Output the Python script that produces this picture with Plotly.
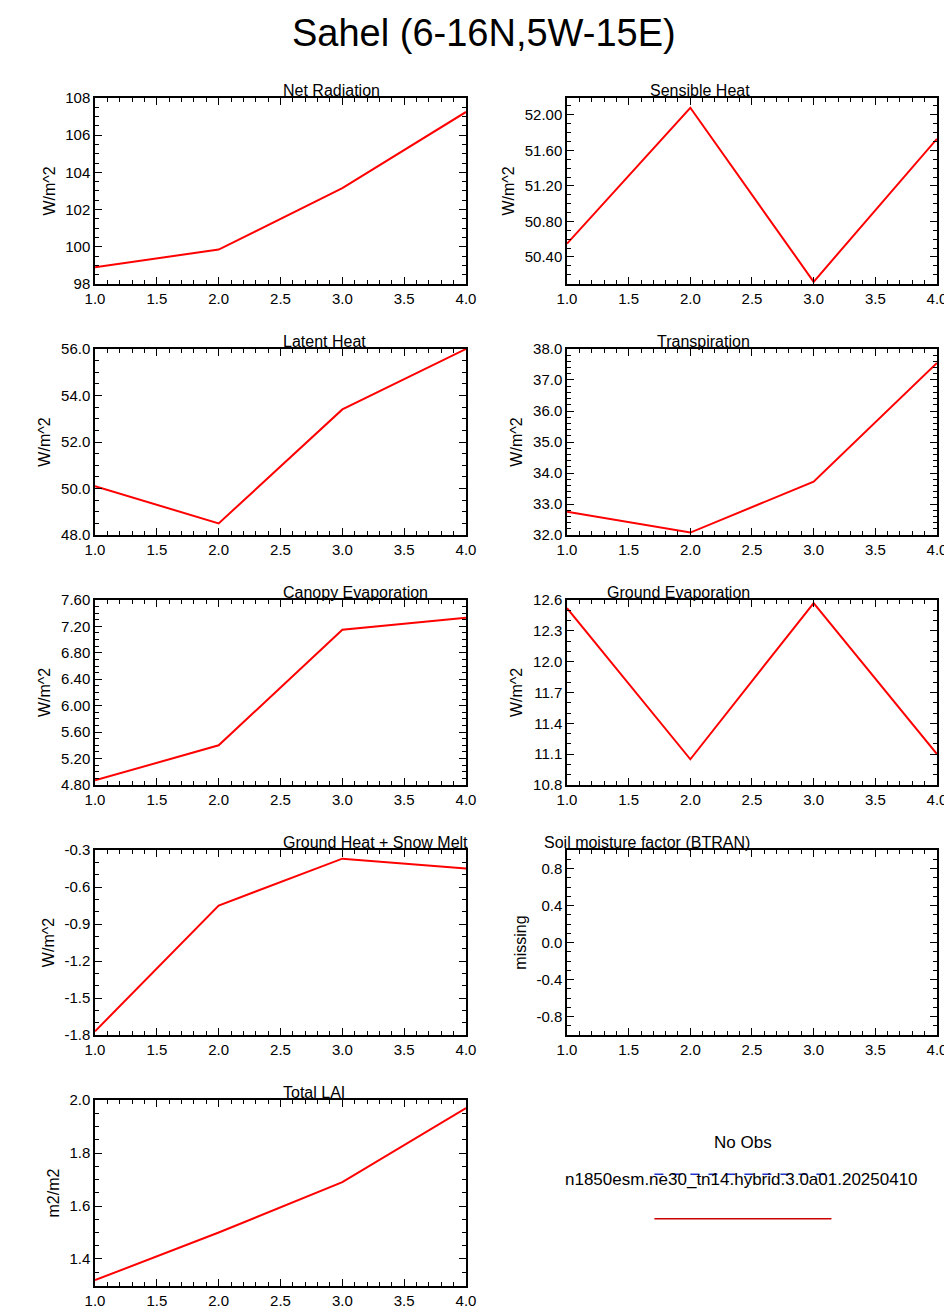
import plotly.graph_objects as go

x = [1.0, 2.0, 3.0, 4.0]
net_rad = [98.9, 99.85, 103.15, 107.25]
sensible = [50.55, 52.08, 50.12, 51.73]
latent = [50.1, 48.5, 53.4, 56.0]
transp = [32.75, 32.08, 33.72, 37.55]
canopy = [4.87, 5.4, 7.15, 7.33]
ground_evap = [12.52, 11.05, 12.57, 11.1]
ground_heat = [-1.77, -0.75, -0.37, -0.45]
lai = [1.32, 1.5, 1.69, 1.97]

heat_ticks = [-1.8, -1.5, -1.2, -0.9, -0.6, -0.3]
btran_ticks = [-0.8, -0.4, 0.0, 0.4, 0.8]

panels = [
    ("Net Radiation", net_rad, "W/m^2", [98, 108], 2, "d"),
    ("Sensible Heat", sensible, "W/m^2", [50.096, 52.19], 0.4, ".2f"),
    ("Latent Heat", latent, "W/m^2", [48, 56], 2, ".1f"),
    ("Transpiration", transp, "W/m^2", [32, 38], 1, ".1f"),
    ("Canopy Evaporation", canopy, "W/m^2", [4.8, 7.6], 0.4, ".2f"),
    ("Ground Evaporation", ground_evap, "W/m^2", [10.8, 12.6], 0.3, ".1f"),
    ("Ground Heat + Snow Melt", ground_heat, "W/m^2", [-1.8, -0.3], 0.3, ".1f"),
    ("Soil moisture factor (BTRAN)", None, "missing", [-1, 1], 0.4, ".1f"),
    ("Total LAI", lai, "m2/m2", [1.298, 2.0], 0.2, ".1f"),
]

xdoms = [[0.0914, 0.4811], [0.5872, 0.9758]]
ydoms = [[0.7900, 0.9315], [0.5989, 0.7405], [0.4087, 0.5495],
         [0.2184, 0.3592], [0.0274, 0.1689]]

fig = go.Figure()
font = dict(family="Liberation Sans, Arial", color="black")
for i, (title, y, ylab, yr, dt, fmt) in enumerate(panels):
    n = i + 1
    xd = xdoms[i % 2]
    yd = ydoms[i // 2]
    xa = "x" if n == 1 else f"x{n}"
    ya = "y" if n == 1 else f"y{n}"
    if y is not None:
        fig.add_trace(go.Scatter(x=x, y=y, mode="lines", xaxis=xa, yaxis=ya,
                                 line=dict(color="red", width=2), showlegend=False))
    else:
        fig.add_trace(go.Scatter(x=[None], y=[None], xaxis=xa, yaxis=ya, showlegend=False))
    common = dict(showline=True, linecolor="black", linewidth=1.5, mirror="allticks",
                  ticks="inside", ticklen=7, tickwidth=1, tickcolor="black",
                  showgrid=False, zeroline=False, tickfont=dict(size=15, **font),
                  automargin=False,
                  minor=dict(ticks="inside", ticklen=4, tickcolor="black"))
    tick0 = yr[0]
    if title == "Sensible Heat":
        tick0 = 50.4
    if title == "Total LAI":
        tick0 = 1.4
    yextra = dict(tick0=tick0, dtick=dt, tickformat=fmt)
    if title == "Ground Heat + Snow Melt":
        yextra = dict(tickvals=heat_ticks, ticktext=[f"{v:.1f}" for v in heat_ticks],
                      minor=dict(ticks="inside", ticklen=4, tickcolor="black", dtick=0.1))
    if y is None:
        yextra = dict(tickvals=btran_ticks, ticktext=[f"{v:.1f}" for v in btran_ticks],
                      minor=dict(ticks="inside", ticklen=4, tickcolor="black", dtick=0.1))
    ycommon = dict(common)
    if "minor" in yextra:
        ycommon.pop("minor")
    fig.layout[f"xaxis{'' if n == 1 else n}"] = dict(
        domain=xd, anchor=ya, range=[1, 4], tick0=1, dtick=0.5, tickformat=".1f",
        **common)
    fig.layout[f"yaxis{'' if n == 1 else n}"] = dict(
        domain=yd, anchor=xa, range=yr,
        title=dict(text=ylab, font=dict(size=16, **font), standoff=6),
        **yextra, **ycommon)
    fig.add_annotation(x=(xd[0] + xd[1]) / 2, y=yd[1], xref="paper", yref="paper",
                       text=title, showarrow=False, yanchor="bottom", yshift=-3,
                       font=dict(size=16, **font))

fig.add_annotation(x=0.5, y=1.0, xref="paper", yref="paper", text="Sahel (6-16N,5W-15E)",
                   showarrow=False, yanchor="top", yshift=-2, font=dict(size=38, **font))
fig.add_annotation(x=0.772, y=0.128, xref="paper", yref="paper", text="No Obs",
                   xanchor="center", showarrow=False, font=dict(size=17, **font))
fig.add_annotation(x=0.771, y=0.1, xref="paper", yref="paper",
                   text="n1850esm.ne30_tn14.hybrid.3.0a01.20250410",
                   xanchor="center", showarrow=False, font=dict(size=17, **font))
fig.add_shape(type="line", xref="paper", yref="paper", x0=0.679, x1=0.865, y0=0.1125, y1=0.1125,
              line=dict(color="#2233cc", width=1.5, dash="dash"))
fig.add_shape(type="line", xref="paper", yref="paper", x0=0.679, x1=0.865, y0=0.0785, y1=0.0785,
              line=dict(color="#cc0000", width=1.5))

fig.update_layout(width=952, height=1314, margin=dict(l=0, r=0, t=0, b=0),
                  plot_bgcolor="white", paper_bgcolor="white", showlegend=False)
fig.write_html("out.html")
